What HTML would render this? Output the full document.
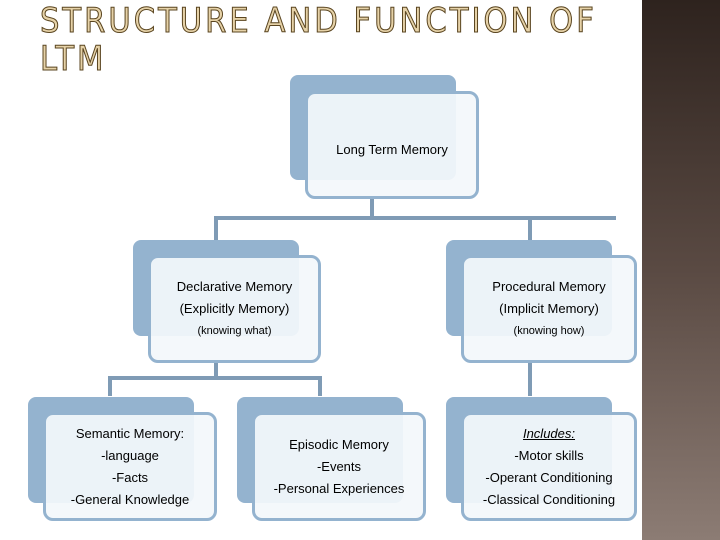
<!DOCTYPE html>
<html><head><style>
body{margin:0;width:720px;height:540px;position:relative;background:#fff;overflow:hidden;font-family:"Liberation Sans",sans-serif}
.strip{position:absolute;left:642px;top:0;width:78px;height:540px;background:linear-gradient(#2e231e,#5a4a43 50%,#8c7c74)}
.t{position:absolute;left:40px;font-size:34px;letter-spacing:3px;color:#e6d2a8;-webkit-text-stroke:1px #5a4520;font-family:"DejaVu Sans Condensed","Liberation Sans",sans-serif;line-height:1}
.b{position:absolute;background:#94b3cf;border-radius:8px}
.f{position:absolute;background:rgba(243,247,251,0.93);border:3px solid #94b3cf;border-radius:10px;box-sizing:border-box;display:flex;flex-direction:column;justify-content:center;align-items:center;text-align:center;font-size:13px;line-height:22px;color:#000}
.l{position:absolute;background:#7f9bb5}
.s{font-size:11px}
</style></head><body>
<div class="strip"></div>
<div class="t" style="top:4px">STRUCTURE AND FUNCTION OF</div>
<div class="t" style="top:42px">LTM</div>

<div class="l" style="left:370px;top:196px;width:4px;height:22px"></div>
<div class="l" style="left:214px;top:216px;width:402px;height:4px"></div>
<div class="l" style="left:214px;top:216px;width:4px;height:26px"></div>
<div class="l" style="left:528px;top:216px;width:4px;height:26px"></div>
<div class="l" style="left:214px;top:360px;width:4px;height:20px"></div>
<div class="l" style="left:108px;top:376px;width:214px;height:4px"></div>
<div class="l" style="left:108px;top:376px;width:4px;height:20px"></div>
<div class="l" style="left:318px;top:376px;width:4px;height:20px"></div>
<div class="l" style="left:528px;top:360px;width:4px;height:36px"></div>

<div class="b" style="left:290px;top:75px;width:166px;height:105px"></div>
<div class="f" style="left:305px;top:91px;width:174px;height:108px;padding-top:10px">Long Term Memory</div>

<div class="b" style="left:133px;top:240px;width:166px;height:96px"></div>
<div class="f" style="left:148px;top:255px;width:173px;height:108px"><b style="font-weight:normal">Declarative Memory</b><span>(Explicitly Memory)</span><span class="s">(knowing what)</span></div>

<div class="b" style="left:446px;top:240px;width:166px;height:96px"></div>
<div class="f" style="left:461px;top:255px;width:176px;height:108px"><span>Procedural Memory</span><span>(Implicit Memory)</span><span class="s">(knowing how)</span></div>

<div class="b" style="left:28px;top:397px;width:166px;height:106px"></div>
<div class="f" style="left:43px;top:412px;width:174px;height:109px"><span>Semantic Memory:</span><span>-language</span><span>-Facts</span><span>-General Knowledge</span></div>

<div class="b" style="left:237px;top:397px;width:166px;height:106px"></div>
<div class="f" style="left:252px;top:412px;width:174px;height:109px"><span>Episodic Memory</span><span>-Events</span><span>-Personal Experiences</span></div>

<div class="b" style="left:446px;top:397px;width:166px;height:106px"></div>
<div class="f" style="left:461px;top:412px;width:176px;height:109px"><i style="text-decoration:underline">Includes:</i><span>-Motor skills</span><span>-Operant Conditioning</span><span>-Classical Conditioning</span></div>
</body></html>
